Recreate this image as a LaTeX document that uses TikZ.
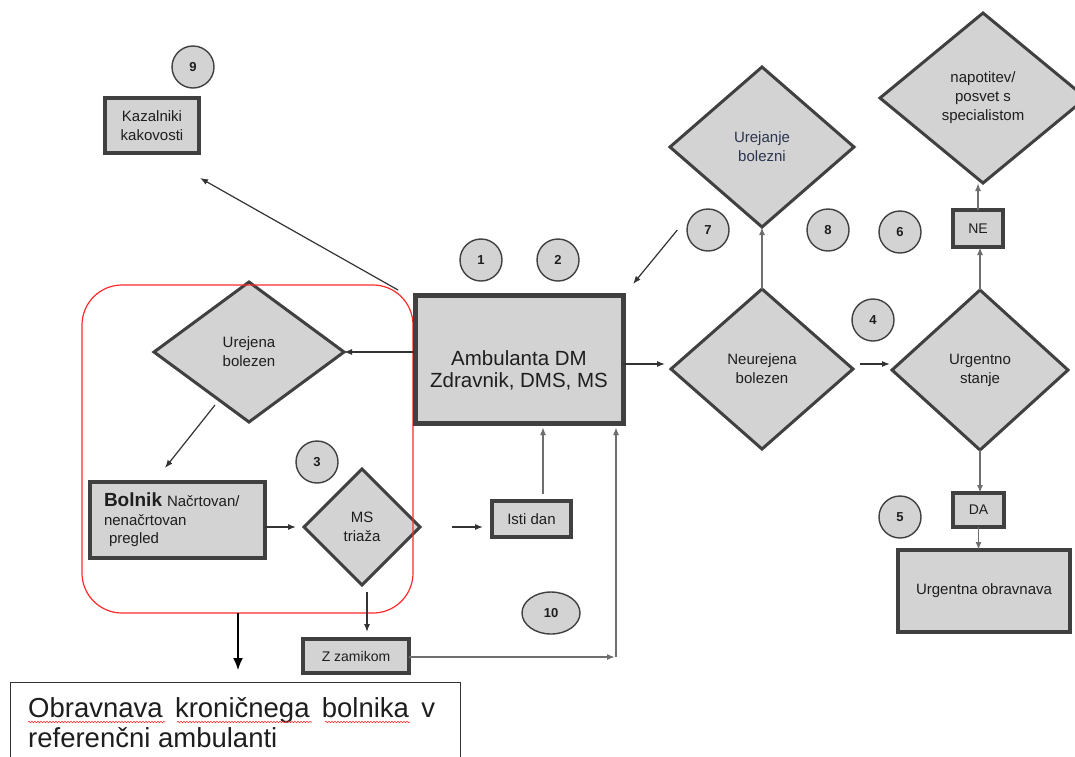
\documentclass[tikz,border=0pt]{standalone}
\usepackage{fontspec}
\setmainfont{Liberation Sans}
\usetikzlibrary{shapes.geometric,arrows.meta,calc,decorations.pathmorphing}
\definecolor{boxfill}{HTML}{D3D3D3}
\definecolor{edge}{HTML}{404040}
\definecolor{lin}{HTML}{333333}
\definecolor{glin}{HTML}{6E6E6E}
\definecolor{redline}{HTML}{FF2A2A}
\definecolor{navy}{HTML}{2B3550}
\definecolor{txt}{HTML}{1E1E1E}
\newcommand{\myfs}[2]{\fontsize{#1}{#2}\selectfont}
\begin{document}
\begin{tikzpicture}[x=1pt,y=-1pt,
  dia/.style={diamond, draw=edge, fill=boxfill, line width=3pt, inner sep=0pt, outer sep=0pt, align=center, font=\myfs{15}{19}, text=txt},
  bx/.style={rectangle, draw=edge, fill=boxfill, line width=3.5pt, inner sep=0pt, outer sep=0pt, align=center, font=\myfs{15}{19}, text=txt},
  num/.style={circle, draw=edge, fill=boxfill, line width=1.4pt, minimum size=42pt, inner sep=0pt, font=\bfseries\myfs{13}{15}, text=txt},
  arr/.style={draw=lin, line width=1.2pt, -{Latex[length=8pt,width=6pt]}},
  garr/.style={draw=glin, line width=1.6pt, -{Latex[length=8pt,width=6pt]}},
  wavy/.style={draw=redline, line width=0.6pt, decorate, decoration={snake, amplitude=0.7pt, segment length=3pt}}
]
\fill[white] (0,0) rectangle (1075,756);
\useasboundingbox (0,0) rectangle (1075,756);

% left part
\node[num] (c9) at (193,67) {9};
\node[bx, minimum width=94pt, minimum height=55pt] (kaz) at (152,125.5) {Kazalniki\\kakovosti};
\node[dia, minimum width=190pt, minimum height=140pt] (ure) at (249,352) {Urejena\\bolezen};
\node[bx, minimum width=175pt, minimum height=76pt, align=left, text width=147pt, inner xsep=14pt, font=\myfs{15}{18.5}] (bol) at (177.5,520)
  {{\myfs{19}{19}\bfseries Bolnik} Načrtovan/\\nenačrtovan\\\ pregled};
\node[num] (c3) at (317,462) {3};
\node[dia, minimum width=116pt, minimum height=116pt] (ms) at (362,527) {MS\\triaža};
\node[draw=redline, line width=1.2pt, rounded corners=40pt, minimum width=331pt, minimum height=328pt, inner sep=0pt, outer sep=0pt] (grp) at (247.5,449) {};
\node[bx, minimum width=79pt, minimum height=36pt] (isti) at (531.5,519) {Isti dan};
\node[bx, minimum width=106pt, minimum height=34pt, font=\myfs{14}{16}] (zz) at (356,656) {Z zamikom};
\node[num, ellipse, minimum width=58pt] (c10) at (551,613) {10};

% centre
\node[num] (c1) at (481,260) {1};
\node[num] (c2) at (558,260) {2};
\node[bx, line width=5pt, minimum width=208pt, minimum height=128pt] (amb) at (519,359) {};
\node[font=\myfs{20.5}{22}, text=txt, align=center, inner sep=0pt] (ambt) at (519,370) {Ambulanta DM\\Zdravnik, DMS, MS};

% right part
\node[dia, minimum width=182pt, minimum height=160pt] (neu) at (762,369) {Neurejena\\bolezen};
\node[dia, minimum width=184pt, minimum height=160pt, text=navy] (uje) at (762,147) {Urejanje\\bolezni};
\node[num] (c7) at (708,230) {7};
\node[num] (c8) at (828,230) {8};
\node[num] (c6) at (900,232) {6};
\node[num] (c4) at (873,320) {4};
\node[num] (c5) at (900,517) {5};
\node[dia, minimum width=206pt, minimum height=170pt] (nap) at (983,98) {napotitev/\\posvet s\\specialistom};
\node[bx, minimum width=50pt, minimum height=37pt, font=\myfs{14}{16}] (ne) at (978,228.5) {NE};
\node[dia, minimum width=176pt, minimum height=160pt] (ust) at (980,370) {Urgentno\\stanje};
\node[bx, minimum width=51pt, minimum height=34pt, font=\myfs{14}{16}] (da) at (978.5,510) {DA};
\node[bx, minimum width=172pt, minimum height=82pt] (urg) at (984,591) {Urgentna obravnava};

% bottom caption box
\node[draw=black!80, fill=white, line width=1pt, minimum width=450pt, minimum height=90pt, inner sep=0pt, outer sep=0pt] (obr) at (235,727) {};
\node[anchor=north west, font=\myfs{27.5}{30}, text=txt, align=left, inner sep=0pt] (obrt) at (28,697)
  {\hbox to 407pt{Obravnava\hfill kroničnega\hfill bolnika\hfill v}\\referenčni ambulanti};
\draw[wavy] (28,722) -- (165,722);
\draw[wavy] (177,722) -- (312,722);
\draw[wavy] (325,722) -- (410,722);

% connectors
\draw[arr] ($(amb.north west)+(-17,-5)$) -- ($(kaz.south east)+(1,25)$);
\draw[arr] ($(c7.west)+(-9,0)$) -- ($(amb.north east)+(10,-11)$);
\draw[arr] (amb.west |- ure.east) -- (ure.east);
\draw[arr] ($(ure.south)+(-34,-17)$) -- ($(bol.north)+(-12.5,-14)$);
\draw[arr] (bol.east |- ms.west) -- ($(ms.west)+(-8,0)$);
\draw[arr] ($(ms.east)+(32,0)$) -- ($(isti.west |- ms.east)+(-9,0)$);
\draw[garr] ($(isti.north)+(11.5,-7)$) -- ($(amb.south)+(24,4)$);
\draw[arr] ($(ms.south)+(5,7)$) -- ($(zz.north)+(11,-7)$);
\draw[line width=1.5pt, black, -{Latex[length=12pt,width=10pt]}] ($(grp.south)+(-9.5,0)$) -- ($(obr.north)+(3,-12)$);
\coordinate (zc) at (616,657);
\draw[garr] (zz.east |- zc) -- ($(zc)+(-1,0)$);
\draw[garr] (zc) -- ($(zc |- amb.south)+(0,4)$);
\draw[arr] ($(amb.east)+(0,5)$) -- ($(neu.west)+(-6,-5)$);
\draw[arr] ($(neu.east)+(7,-5)$) -- ($(ust.west)+(-2,-6)$);
\draw[garr] (neu.north) -- (uje.south);
\draw[garr] (ust.north) -- (ust.north |- ne.south);
\draw[garr] (ne.north) -- (ne.north |- nap.south);
\draw[garr] (ust.south) -- (ust.south |- da.north);
\draw[garr] (da.south) -- (da.south |- urg.north);
\end{tikzpicture}
\end{document}
